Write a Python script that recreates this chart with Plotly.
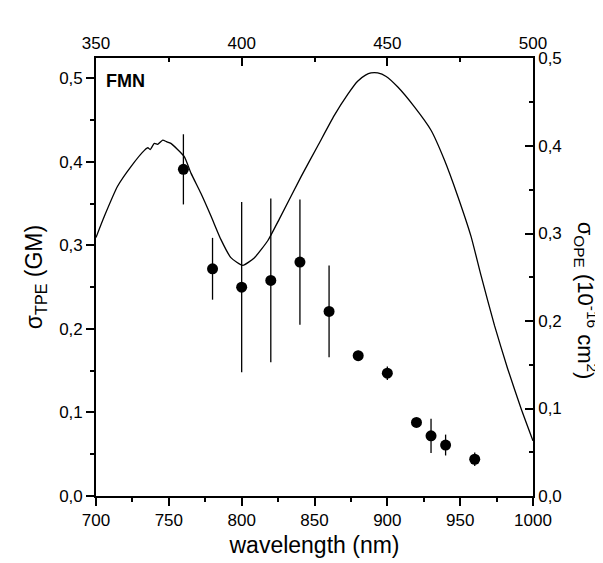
import plotly.graph_objects as go

# Two-photon excitation cross-section (left axis, bottom wavelength axis)
tpe_wavelength = [760, 780, 800, 820, 840, 860, 880, 900, 920, 930, 940, 960]
tpe_sigma = [0.391, 0.272, 0.250, 0.258, 0.280, 0.221, 0.168, 0.147, 0.088, 0.072, 0.061, 0.044]
tpe_error = [0.042, 0.037, 0.102, 0.098, 0.075, 0.055, 0.006, 0.008, 0.003, 0.0205, 0.0125, 0.008]

# One-photon absorption cross-section (right axis, top wavelength axis)
ope_wavelength = [350, 352.9, 357.4, 362, 366.6, 367.8, 368.6, 370, 371.2, 372.9, 374.2, 375.7,
                  380.3, 382.6, 386, 389.5, 392.9, 396.3, 400.4, 404.4, 409, 413, 420.4,
                  426.1, 431.8, 436.4, 439.8, 442.5, 444.4, 446.7, 449.6, 453.6, 459.3, 465,
                  469.6, 474.2, 478.7, 482.2, 486.8, 491.3, 495.9, 500]
ope_sigma = [0.2955, 0.320, 0.354, 0.3765, 0.395, 0.398, 0.396, 0.403, 0.402, 0.4068, 0.405, 0.403,
             0.388, 0.369, 0.346, 0.3197, 0.293, 0.2724, 0.2636, 0.2724, 0.292, 0.317, 0.365,
             0.400, 0.435, 0.459, 0.474, 0.481, 0.4835, 0.4835, 0.4795, 0.4674, 0.4447, 0.418,
             0.384, 0.3424, 0.297, 0.2515, 0.1947, 0.1455, 0.100, 0.063]

bottom_ticks = [700, 750, 800, 850, 900, 950, 1000]
top_ticks = [350, 400, 450, 500]
left_ticks = [0.0, 0.1, 0.2, 0.3, 0.4, 0.5]
right_ticks = [0.0, 0.1, 0.2, 0.3, 0.4, 0.5]

FONT = "Liberation Sans, Arial, sans-serif"

fig = go.Figure()

fig.add_trace(go.Scatter(
    x=ope_wavelength, y=ope_sigma, xaxis="x2", yaxis="y2",
    mode="lines", line=dict(color="black", width=1.3, shape="spline", smoothing=0.5),
    showlegend=False, hoverinfo="skip"))

fig.add_trace(go.Scatter(
    x=tpe_wavelength, y=tpe_sigma, mode="markers",
    marker=dict(color="black", size=11, symbol="circle"),
    error_y=dict(type="data", array=tpe_error, visible=True, color="black",
                 thickness=1.3, width=0),
    showlegend=False))

tickfont = dict(family=FONT, size=17, color="black")
axis_common = dict(showline=True, linecolor="black", linewidth=1.6, showgrid=False,
                   zeroline=False, tickcolor="black", tickwidth=1.5, tickfont=tickfont)

fig.update_layout(
    width=603, height=563,
    margin=dict(l=88, r=78, t=50, b=75),
    paper_bgcolor="white", plot_bgcolor="white",
    separators=", ",
    font=dict(family=FONT, color="black"),
    xaxis=dict(range=[700, 1000], tickvals=bottom_ticks, ticks="outside", ticklen=8,
               minor=dict(dtick=25, tick0=700, ticklen=4, ticks="outside", tickcolor="black"),
               title=dict(text="wavelength (nm)", font=dict(family=FONT, size=23), standoff=8),
               **axis_common),
    xaxis2=dict(range=[350, 500], tickvals=top_ticks, overlaying="x", side="top",
                ticks="inside", ticklen=8,
                minor=dict(dtick=25, tick0=350, ticklen=4, ticks="inside", tickcolor="black"),
                **axis_common),
    yaxis=dict(range=[0, 0.5243], tickvals=left_ticks, tickformat=".1f",
               ticks="outside", ticklen=8,
               minor=dict(dtick=0.05, tick0=0, ticklen=4, ticks="outside", tickcolor="black"),
               title=dict(text="σ<sub>TPE</sub> (GM)", font=dict(family=FONT, size=23), standoff=10),
               **axis_common),
    yaxis2=dict(range=[0, 0.5006], tickvals=right_ticks, tickformat=".1f", overlaying="y",
                side="right", ticks="inside", ticklen=8,
                minor=dict(dtick=0.05, tick0=0, ticklen=4, ticks="inside", tickcolor="black"),
                **axis_common),
)

fig.add_annotation(text="<b>FMN</b>", xref="paper", yref="paper", x=0.018, y=0.975,
                   xanchor="left", yanchor="top", showarrow=False,
                   font=dict(family=FONT, size=18, color="black"))

fig.add_annotation(text="σ<sub>OPE</sub> (10<sup>-16</sup> cm<sup>2</sup>)",
                   xref="paper", yref="paper", x=1.122, y=0.445, textangle=90,
                   xanchor="center", yanchor="middle", showarrow=False,
                   font=dict(family=FONT, size=22, color="black"))

fig.write_html("out.html")
